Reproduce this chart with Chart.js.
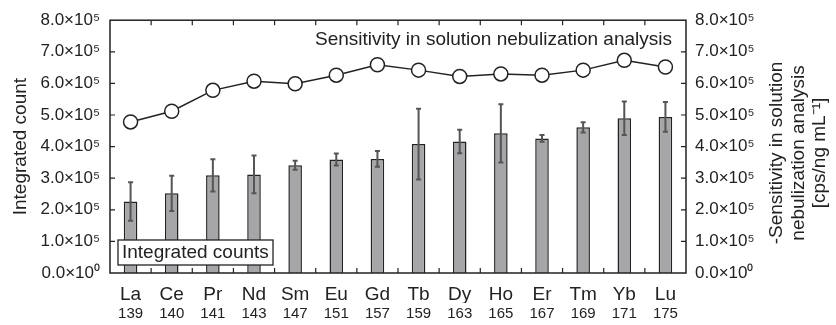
<!DOCTYPE html>
<html>
<head>
<meta charset="utf-8">
<script src="https://cdn.jsdelivr.net/npm/chart.js@4.4.1/dist/chart.umd.min.js"></script>
<style>
  html, body { margin: 0; padding: 0; background: #fff; }
  #wrap { width: 836px; height: 325px; }
</style>
</head>
<body>
<div id="wrap"><canvas id="chart" width="836" height="325"></canvas></div>
<script>
const elements = ['La','Ce','Pr','Nd','Sm','Eu','Gd','Tb','Dy','Ho','Er','Tm','Yb','Lu'];
const masses = ['139','140','141','143','147','151','157','159','163','165','167','169','171','175'];
// integrated counts and their error (in counts)
const counts = [2.26e5,2.52e5,3.09e5,3.12e5,3.41e5,3.59e5,3.61e5,4.08e5,4.16e5,4.42e5,4.26e5,4.61e5,4.90e5,4.94e5];
const countErr = [0.61e5,0.56e5,0.51e5,0.60e5,0.14e5,0.19e5,0.25e5,1.12e5,0.37e5,0.92e5,0.11e5,0.16e5,0.53e5,0.47e5];
// sensitivity in solution nebulization [cps/ng mL-1]
const sensitivity = [4.78e5,5.12e5,5.78e5,6.07e5,5.99e5,6.26e5,6.59e5,6.42e5,6.22e5,6.30e5,6.26e5,6.42e5,6.73e5,6.52e5];

const FONT = '"Liberation Sans", Arial, Helvetica, sans-serif';
const INK = '#222';

function sciLabel(v){
    return (v/1e5).toFixed(1) + '×10' + (v === 0 ? '⁰' : '⁵');
}

const extras = {
    id: 'extras',
    afterDraw(chart){
        const ctx = chart.ctx;
        const a = chart.chartArea;
        const x = chart.scales.x;
        const y = chart.scales.y;
        ctx.save();

        // error bars
        ctx.strokeStyle = '#555';
        ctx.lineWidth = 2;
        counts.forEach((v,i)=>{
            const px = x.getPixelForValue(i);
            const top = y.getPixelForValue(v + countErr[i]);
            const bot = y.getPixelForValue(v - countErr[i]);
            ctx.beginPath();
            ctx.moveTo(px, top); ctx.lineTo(px, bot);
            ctx.moveTo(px-2.5, top); ctx.lineTo(px+2.5, top);
            ctx.moveTo(px-2.5, bot); ctx.lineTo(px+2.5, bot);
            ctx.stroke();
        });

        // frame
        ctx.strokeStyle = INK;
        ctx.lineWidth = 1.5;
        ctx.strokeRect(a.left, a.top, a.right-a.left, a.bottom-a.top);

        // inward ticks
        ctx.lineWidth = 1.2;
        ctx.beginPath();
        for(let v = 1e5; v < 8e5; v += 1e5){
            const py = y.getPixelForValue(v);
            ctx.moveTo(a.left, py); ctx.lineTo(a.left+5, py);
            ctx.moveTo(a.right, py); ctx.lineTo(a.right-5, py);
        }
        for(let i = 1; i < elements.length; i++){
            const px = (x.getPixelForValue(i-1) + x.getPixelForValue(i)) / 2;
            ctx.moveTo(px, a.bottom); ctx.lineTo(px, a.bottom-5);
            ctx.moveTo(px, a.top); ctx.lineTo(px, a.top+5);
        }
        ctx.stroke();

        // label boxes
        ctx.font = '19px ' + FONT;
        ctx.textBaseline = 'middle';
        ctx.fillStyle = INK;
        ctx.textAlign = 'right';
        ctx.fillText('Sensitivity in solution nebulization analysis', a.right - 14, a.top + 20);

        ctx.fillStyle = '#fff';
        ctx.fillRect(a.left+8, a.bottom-33, 155, 25);
        ctx.strokeStyle = INK;
        ctx.lineWidth = 1.3;
        ctx.strokeRect(a.left+8, a.bottom-33, 155, 25);
        ctx.fillStyle = INK;
        ctx.textAlign = 'left';
        ctx.fillText('Integrated counts', a.left+12, a.bottom-20);

        // right axis title, read bottom to top
        const lines = ['-Sensitivity in solution', 'nebulization analysis', '[cps/ng mL⁻¹]'];
        ctx.translate(777, 153);
        ctx.rotate(-Math.PI/2);
        ctx.textAlign = 'center';
        lines.forEach((t,i)=> ctx.fillText(t, 0, i*21.5));
        ctx.restore();
    }
};

new Chart(document.getElementById('chart'), {
    type: 'bar',
    data: {
        labels: elements,
        datasets: [{
            type: 'line',
            label: 'Sensitivity',
            data: sensitivity,
            yAxisID: 'y1',
            borderColor: INK,
            borderWidth: 1.5,
            pointRadius: 7,
            pointBackgroundColor: '#fff',
            pointBorderColor: INK,
            pointBorderWidth: 1.5,
            tension: 0
        },{
            label: 'Integrated counts',
            data: counts,
            yAxisID: 'y',
            backgroundColor: '#a6a6a8',
            borderColor: INK,
            borderWidth: 1.5,
            categoryPercentage: 1,
            barPercentage: 0.33
        }]
    },
    options: {
        responsive: false,
        animation: false,
        layout: { padding: { top: 20, left: 0, right: 0, bottom: 0 } },
        plugins: { legend: { display: false }, tooltip: { enabled: false } },
        scales: {
            x: {
                position: 'bottom',
                grid: { display: false, drawTicks: false },
                border: { display: false },
                ticks: { color: INK, font: { family: FONT, size: 19 }, padding: 10, maxRotation: 0, autoSkip: false },
                afterFit(s){ s.height = 30; }
            },
            x2: {
                type: 'category',
                position: 'bottom',
                labels: masses,
                offset: true,
                grid: { display: false, drawTicks: false },
                border: { display: false },
                ticks: { color: INK, font: { family: FONT, size: 15 }, padding: 2, maxRotation: 0, autoSkip: false },
                afterFit(s){ s.height = 22; }
            },
            y: {
                position: 'left',
                min: 0, max: 8e5,
                grid: { display: false, drawTicks: false },
                border: { display: false },
                ticks: { stepSize: 1e5, color: INK, font: { family: FONT, size: 17 }, padding: 10, callback: v => sciLabel(v) },
                title: { display: true, text: 'Integrated count', color: INK, font: { family: FONT, size: 19 }, padding: { top: 9, bottom: 0 } },
                afterFit(s){ s.width = 110; }
            },
            y1: {
                position: 'right',
                min: 0, max: 8e5,
                grid: { display: false, drawTicks: false },
                border: { display: false },
                ticks: { stepSize: 1e5, color: INK, font: { family: FONT, size: 17 }, padding: 9, callback: v => sciLabel(v) },
                afterFit(s){ s.width = 150; }
            }
        }
    },
    plugins: [extras]
});
</script>
</body>
</html>
